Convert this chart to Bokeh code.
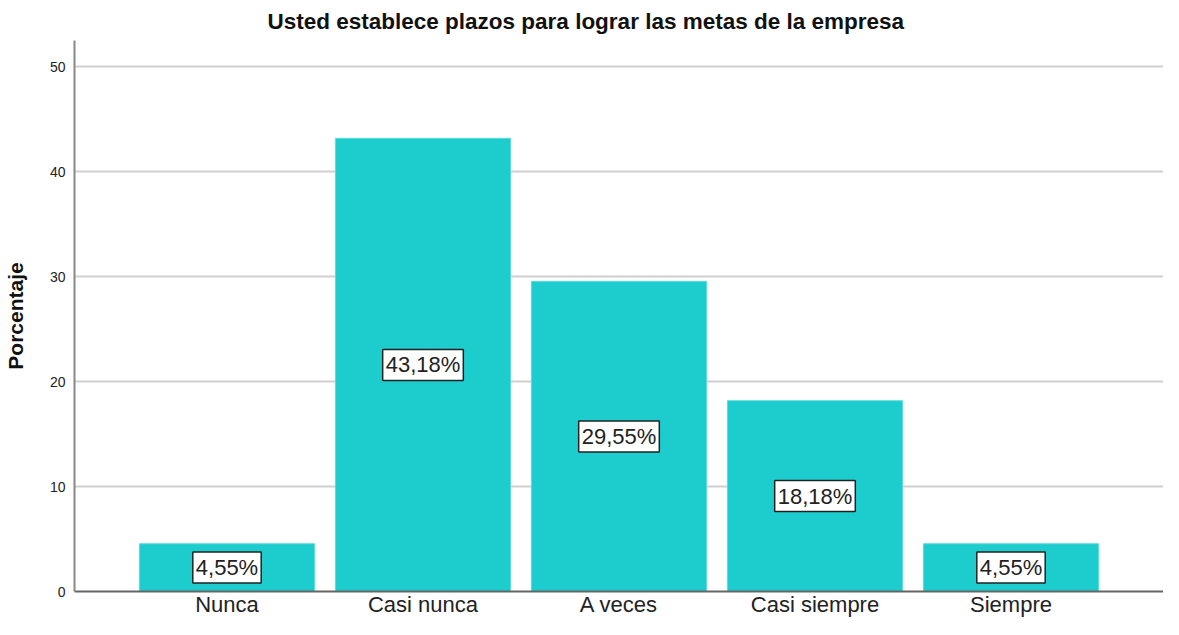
from bokeh.plotting import figure
from bokeh.models import ColumnDataSource, FactorRange, Range1d, FixedTicker, Title
from bokeh.core.properties import value
from bokeh.embed import file_html
from bokeh.resources import INLINE

categories = ["Nunca", "Casi nunca", "A veces", "Casi siempre", "Siempre"]
values = [4.55, 43.18, 29.55, 18.18, 4.55]
labels = ["4,55%", "43,18%", "29,55%", "18,18%", "4,55%"]
y_ticks = [0, 10, 20, 30, 40, 50]

src = ColumnDataSource(dict(cat=categories, val=values, half=[v / 2 for v in values], lab=labels))

p = figure(
    width=1163, height=619,
    x_range=FactorRange(factors=categories, range_padding=0.278, range_padding_units="absolute"),
    y_range=Range1d(0, 52.5),
    output_backend="svg", toolbar_location=None,
    min_border_left=71, min_border_right=0, min_border_top=0, min_border_bottom=0,
)
p.title = Title(text="Usted establece plazos para lograr las metas de la empresa",
                align="left", text_font="Liberation Sans", text_font_size="22.5px",
                text_font_style="bold", text_color="#111111", offset=193, standoff=13)
p.outline_line_color = None

p.vbar(x="cat", top="val", width=0.894, source=src, fill_color="#1dcdcd", line_color="#5fdcdc", line_width=1)

p.text(x="cat", y="half", text="lab", source=src, text_align="center", text_baseline="middle",
       text_font=value("Liberation Sans"), text_font_size="22px", text_color="#222222",
       background_fill_color="white", border_line_color="#222222", border_line_width=1.5,
       padding=3)

p.yaxis.ticker = FixedTicker(ticks=y_ticks)
p.yaxis.axis_label = "Porcentaje"
p.yaxis.axis_label_text_font = "Liberation Sans"
p.yaxis.axis_label_text_font_size = "21px"
p.yaxis.axis_label_text_font_style = "bold"
p.yaxis.axis_label_text_color = "#111111"
p.yaxis.axis_label_standoff = 20
p.yaxis.major_label_text_font = "Liberation Sans"
p.yaxis.major_label_text_font_size = "14px"
p.yaxis.major_label_text_color = "#222222"
p.yaxis.major_tick_line_color = None
p.yaxis.major_tick_out = 0
p.yaxis.major_tick_in = 0
p.yaxis.minor_tick_line_color = None
p.yaxis.axis_line_color = "#888888"
p.yaxis.axis_line_width = 2
p.yaxis.major_label_standoff = 9

p.xaxis.major_label_text_font = "Liberation Sans"
p.xaxis.major_label_text_font_size = "22px"
p.xaxis.major_label_text_color = "#222222"
p.xaxis.major_tick_line_color = None
p.xaxis.major_tick_out = 0
p.xaxis.major_tick_in = 0
p.xaxis.axis_label_standoff = 0
p.xaxis.axis_line_color = "#666666"
p.xaxis.axis_line_width = 2
p.xaxis.major_label_standoff = 0

p.xgrid.grid_line_color = None
p.ygrid.grid_line_color = "#d0d0d0"
p.ygrid.grid_line_width = 2
p.ygrid.ticker = FixedTicker(ticks=y_ticks)

open("out.html", "w").write(file_html(p, INLINE))
